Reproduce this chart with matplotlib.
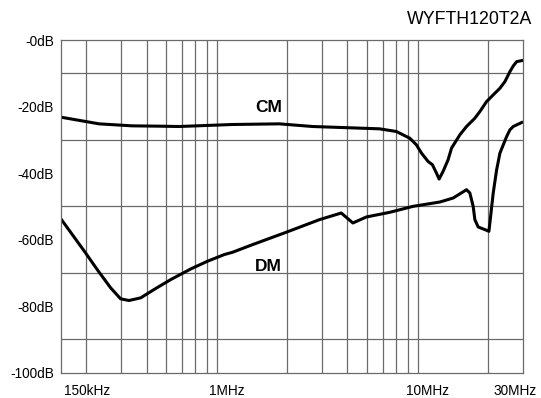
import matplotlib
matplotlib.use("Agg")
import matplotlib.pyplot as plt
import matplotlib.transforms as mtransforms

# ---------------------------------------------------------------------------
# Data (frequency in MHz, attenuation in dB)
# ---------------------------------------------------------------------------

cm_freq = [0.15, 0.232, 0.338, 0.461, 0.581, 1.07, 1.83, 2.68, 5.78, 7.00,
           8.16, 8.81, 9.34, 10.07, 10.59, 11.09, 11.43, 11.96, 12.67, 13.18,
           14.50, 15.65, 17.22, 18.24, 19.70, 21.25, 22.95, 24.30, 25.74,
           26.74, 27.81, 29.45]
cm_db = [-23.2, -25.2, -25.8, -25.9, -26.0, -25.4, -25.2, -26.0, -26.7, -27.5,
         -29.5, -31.5, -34.0, -36.5, -37.5, -40.0, -41.8, -39.5, -36.0, -32.5,
         -28.5, -26.0, -23.5, -21.5, -18.5, -16.5, -14.5, -12.5, -9.5,
         -7.8, -6.5, -6.2]

dm_freq = [0.15, 0.1805, 0.1988, 0.2271, 0.265, 0.2972, 0.3269, 0.3741, 0.4356,
           0.528, 0.6645, 0.8039, 0.974, 1.071, 1.348, 1.979, 2.901, 3.724,
           4.254, 4.962, 6.485, 8.48, 11.52, 13.42, 15.65, 16.26, 16.89, 17.22,
           17.89, 19.70, 20.23, 20.63, 21.25, 22.10, 22.95, 24.79, 25.74,
           26.74, 29.45]
dm_db = [-53.8, -60.5, -64.0, -69.0, -74.5, -77.8, -78.3, -77.5, -75.0,
         -72.0, -68.8, -66.5, -64.5, -63.8, -61.5, -57.8, -54.0, -52.0,
         -55.0, -53.2, -51.8, -50.0, -48.7, -47.5, -45.0, -46.0, -50.0, -54.0,
         -56.2, -57.2, -57.5, -53.0, -46.0, -39.0, -34.0, -29.0, -27.0,
         -26.0, -24.8]

x_grid = [0.2, 0.3, 0.4, 0.5, 0.6, 0.7, 0.8, 0.9,
          1, 2, 3, 4, 5, 6, 7, 8, 9, 10, 20]
x_ticks = [0.15, 1, 10, 30]
x_labels = ["150kHz", "1MHz", "10MHz", "30MHz"]
y_ticks = [-100, -80, -60, -40, -20, 0]
y_labels = ["-100dB", "-80dB", "-60dB", "-40dB", "-20dB", "-0dB"]
y_grid = [-90, -80, -70, -60, -50, -40, -30, -20, -10]

plt.rcParams["font.family"] = ["Liberation Sans", "DejaVu Sans"]

fig = plt.figure(figsize=(5.41, 3.98), dpi=100)
ax = fig.add_axes([61 / 541, 1 - 372.7 / 398, (523.3 - 61) / 541, (372.7 - 40) / 398])

grid_color = "#6a6a6a"
ax.plot(cm_freq, cm_db, color="black", linewidth=2.2, solid_joinstyle="round")
ax.plot(dm_freq, dm_db, color="black", linewidth=2.2, solid_joinstyle="round")

ax.set_xscale("log")
ax.set_xlim(0.15, 30)
ax.set_ylim(-100, 0)

ax.set_xticks(x_ticks)
ax.set_xticklabels(x_labels)
ax.set_xticks(x_grid, minor=True)
ax.set_xticklabels([], minor=True)
ax.set_yticks(y_ticks)
ax.set_yticklabels(y_labels)
ax.set_yticks(y_grid, minor=True)

ax.tick_params(which="both", length=0)
ax.tick_params(axis="x", labelsize=9.8, pad=8)
ax.tick_params(axis="y", labelsize=9.8, pad=5)
ax.grid(which="minor", color=grid_color, linewidth=0.9)
for sp in ax.spines.values():
    sp.set_color(grid_color)
    sp.set_linewidth(0.9)

# first / last x label nudged like the original
labels = ax.get_xticklabels()
labels[0].set_horizontalalignment("left")
labels[0].set_transform(labels[0].get_transform() +
                        mtransforms.ScaledTranslation(3 / 100, 0, fig.dpi_scale_trans))
labels[-1].set_transform(labels[-1].get_transform() +
                         mtransforms.ScaledTranslation(-8 / 100, 0, fig.dpi_scale_trans))

ax.text(1.63, -20.4, "CM", fontsize=12.5, fontweight="bold", ha="center", va="center")
ax.text(1.61, -68.0, "DM", fontsize=12.5, fontweight="bold", ha="center", va="center")

fig.text(532 / 541, 1 - 19 / 398, "WYFTH120T2A", fontsize=12.8, ha="right", va="center")

fig.savefig("out.png", dpi=100)
